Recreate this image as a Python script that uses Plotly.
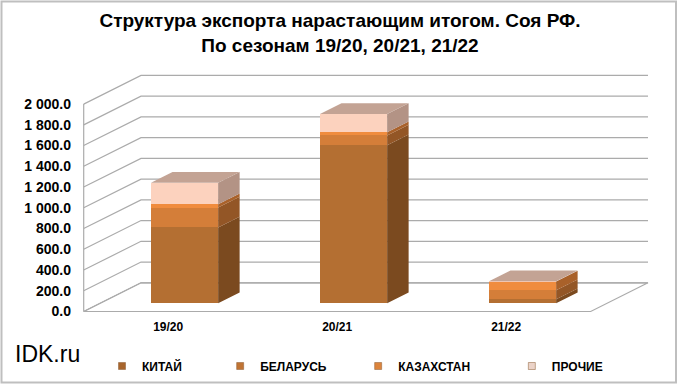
import plotly.graph_objects as go

# ---------------- data ----------------
categories = ["19/20", "20/21", "21/22"]
series_names = ["КИТАЙ", "БЕЛАРУСЬ", "КАЗАХСТАН", "ПРОЧИЕ"]
china = [731, 1524, 40]
belarus = [192, 95, 85]
kazakhstan = [33, 30, 85]
other = [206, 176, 2]
y_ticks = [0, 200, 400, 600, 800, 1000, 1200, 1400, 1600, 1800, 2000]

series_values = [china, belarus, kazakhstan, other]

# ---------------- styles / geometry ----------------
front_colors = ["#B46F32", "#D47E39", "#F08C3E", "#FCD2BE"]
side_colors = ["#7B4A1F", "#935626", "#A9612A", "#B39385"]
top_colors = ["#9A5E2A", "#B06A30", "#C9803E", "#C3A394"]
legend_colors = ["#A8652C", "#C07434", "#DC843C", "#EBD3C8"]
grid_color = "#ABABAB"
FONT = "Arial, Liberation Sans, sans-serif"

W, H = 680, 384
ML, MR, MT, MB = 80, 20, 60, 70
plot_w = W - ML - MR
plot_h = H - MT - MB
X0_PX = 168.2        # pixel of category 0 on the front plane
PX_PER_CAT = 169.0
Y0_PX = 311.5        # pixel of value 0 on the front plane
PX_PER_VAL = 0.1037
DEPTH_PX = (57.3, 28.7)
BAR_D0 = 0.286
BAR_DEPTH = 0.375
BAR_W = 0.397

x_min = (ML - X0_PX) / PX_PER_CAT
x_max = (W - MR - X0_PX) / PX_PER_CAT
y_min = -((H - MB) - Y0_PX) / PX_PER_VAL
y_max = (Y0_PX - MT) / PX_PER_VAL

sx = DEPTH_PX[0] / PX_PER_CAT
sy = DEPTH_PX[1] / PX_PER_VAL


def proj(c, v, d):
    return c + d * sx, v + d * sy


def path_of(points, close=False):
    s = "M " + " L ".join(f"{x:.5f},{y:.3f}" for x, y in points)
    return s + (" Z" if close else "")


n = len(categories)
c_lo, c_hi = -0.5, n - 0.5
v_top = max(y_ticks)

shapes = []
# floor
shapes.append(dict(type="path", xref="x", yref="y", layer="below",
                   path=path_of([proj(c_lo, 0, 0), proj(c_hi, 0, 0), proj(c_hi, 0, 1), proj(c_lo, 0, 1)], True),
                   line=dict(color=grid_color, width=1.2), fillcolor="white"))
# left wall front edge
shapes.append(dict(type="path", xref="x", yref="y", layer="below",
                   path=path_of([proj(c_lo, 0, 0), proj(c_lo, v_top, 0)]),
                   line=dict(color=grid_color, width=1.2)))
# gridlines (side wall + back wall)
for v in y_ticks:
    shapes.append(dict(type="path", xref="x", yref="y", layer="below",
                       path=path_of([proj(c_lo, v, 0), proj(c_lo, v, 1), proj(c_hi, v, 1)]),
                       line=dict(color=grid_color, width=1.2)))

# outer border
shapes.append(dict(type="rect", xref="paper", yref="paper", layer="below",
                   x0=(1.5 - ML) / plot_w, x1=(W - 4 - ML) / plot_w,
                   y0=((H - MB) - (H - 1.5)) / plot_h, y1=((H - MB) - 1.5) / plot_h,
                   line=dict(color="#BFBFBF", width=2), fillcolor="rgba(0,0,0,0)"))

fig = go.Figure()

d1 = BAR_D0 + BAR_DEPTH
cum = [0.0] * n
bottoms = []
for k, vals in enumerate(series_values):
    b = list(cum)
    bottoms.append(b)
    fig.add_trace(go.Bar(
        x=[proj(i, 0, BAR_D0)[0] for i in range(n)],
        y=vals,
        base=[proj(i, b[i], BAR_D0)[1] for i in range(n)],
        width=BAR_W,
        marker=dict(color=front_colors[k], line=dict(width=0)),
        name=series_names[k], showlegend=False, hoverinfo="skip",
    ))
    cum = [cum[i] + vals[i] for i in range(n)]

# side faces
for k, vals in enumerate(series_values):
    xs, ys = [], []
    for i in range(n):
        if vals[i] <= 0:
            continue
        b = bottoms[k][i]
        t = b + vals[i]
        xr = i + BAR_W / 2
        pts = [proj(xr, b, BAR_D0), proj(xr, b, d1), proj(xr, t, d1), proj(xr, t, BAR_D0), proj(xr, b, BAR_D0)]
        xs += [p[0] for p in pts] + [None]
        ys += [p[1] for p in pts] + [None]
    fig.add_trace(go.Scatter(x=xs, y=ys, mode="lines", fill="toself",
                             fillcolor=side_colors[k], line=dict(width=0),
                             showlegend=False, hoverinfo="skip"))

# top faces (colour of topmost non-zero series)
for i in range(n):
    k_top = max(k for k in range(len(series_values)) if series_values[k][i] > 0)
    T = cum[i]
    xl, xr = i - BAR_W / 2, i + BAR_W / 2
    pts = [proj(xl, T, BAR_D0), proj(xr, T, BAR_D0), proj(xr, T, d1), proj(xl, T, d1), proj(xl, T, BAR_D0)]
    fig.add_trace(go.Scatter(x=[p[0] for p in pts], y=[p[1] for p in pts], mode="lines",
                             fill="toself", fillcolor=top_colors[k_top], line=dict(width=0),
                             showlegend=False, hoverinfo="skip"))

# legend entries
pad = ["\u00a0" * 10, "\u00a0" * 8, "\u00a0" * 11, ""]
for k in range(len(series_names)):
    fig.add_trace(go.Scatter(x=[None], y=[None], mode="markers", name=series_names[k] + pad[k],
                             marker=dict(symbol="square", size=7, color=legend_colors[k],
                                         line=dict(color="#8A5A30", width=0.5)),
                             showlegend=True))

fig.update_layout(
    width=W, height=H, autosize=False,
    margin=dict(l=ML, r=MR, t=MT, b=MB, pad=0),
    paper_bgcolor="white", plot_bgcolor="white",
    barmode="overlay", bargap=0,
    separators=". ",
    shapes=shapes,
    font=dict(family=FONT, color="black"),
    title=dict(text="Структура экспорта нарастающим итогом. Соя РФ.<br>По сезонам 19/20, 20/21, 21/22",
               font=dict(family=FONT, size=19, color="black", weight="bold"),
               x=0.5, xanchor="center", xref="container",
               y=1 - 27 / H, yanchor="top", yref="container"),
    xaxis=dict(range=[x_min, x_max], tickvals=list(range(n)), ticktext=categories,
               showgrid=False, zeroline=False, showline=False, ticks="",
               ticklabelstandoff=4,
               tickfont=dict(family=FONT, size=12, color="black", weight="bold"),
               fixedrange=True),
    yaxis=dict(range=[y_min, y_max], tickvals=y_ticks, tickformat=",.1f",
               showgrid=False, zeroline=False, showline=False, ticks="",
               ticklabelstandoff=8,
               tickfont=dict(family=FONT, size=14, color="black", weight="bold"),
               fixedrange=True),
    legend=dict(orientation="h", xref="container", yref="container",
                x=102 / W, xanchor="left", y=1 - 366 / H, yanchor="middle",
                font=dict(family=FONT, size=12, color="black", weight="bold"),
                itemwidth=30, bgcolor="rgba(0,0,0,0)"),
    annotations=[dict(text="IDK.ru", xref="paper", yref="paper",
                      x=(13 - ML) / plot_w, xanchor="left",
                      y=((H - MB) - 354) / plot_h, yanchor="middle",
                      showarrow=False, font=dict(family=FONT, size=23, color="black"))],
)

fig.write_html("out.html", config={"displayModeBar": False},
               post_script="document.body.style.margin='0px';")
